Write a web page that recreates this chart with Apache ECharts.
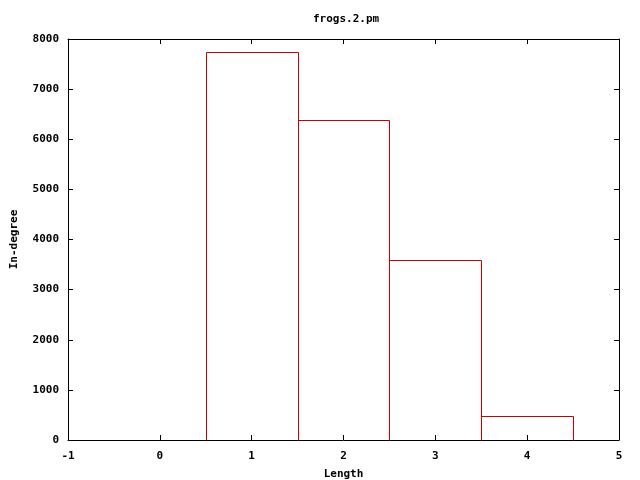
<!DOCTYPE html>
<html><head><meta charset="utf-8">
<script src="https://cdn.jsdelivr.net/npm/echarts@6/dist/echarts.min.js"></script>
<style>html,body{margin:0;padding:0;background:#fff}#c{width:640px;height:480px}</style>
</head><body><div id="c"></div>
<script>
const lengths = [1, 2, 3, 4];
const inDegree = [7740, 6390, 3585, 475];
const xTicks = [-1, 0, 1, 2, 3, 4, 5];
const yTicks = [0, 1000, 2000, 3000, 4000, 5000, 6000, 7000, 8000];

const font = '"DejaVu Sans Mono", monospace';
const chart = echarts.init(document.getElementById('c'), null, {renderer: 'canvas'});
const lineStyle = {color: '#000', width: 1};
const txt = {fontFamily: font, fontSize: 11, fontWeight: 'bold', color: '#000'};
chart.setOption({
  animation: false,
  backgroundColor: '#fff',
  title: {text: 'frogs.2.pm', left: 308, top: 9, textStyle: txt},
  grid: {left: 68, right: 21, top: 39, bottom: 40, containLabel: false, outerBoundsMode: 'none'},
  xAxis: [
    {type: 'value', min: xTicks[0], max: xTicks[xTicks.length-1], interval: 1,
     name: 'Length', nameLocation: 'middle', nameGap: 29, nameTextStyle: txt,
     axisLine: {show: true, onZero: false, lineStyle}, axisTick: {show: true, inside: true, length: 5, lineStyle},
     axisLabel: Object.assign({margin: 11, formatter: v => String(v)}, txt),
     splitLine: {show: false}},
    {type: 'value', position: 'top', min: xTicks[0], max: xTicks[xTicks.length-1], interval: 1,
     axisLine: {show: true, onZero: false, lineStyle}, axisTick: {show: true, inside: true, length: 5, lineStyle},
     axisLabel: {show: false}, splitLine: {show: false}}
  ],
  yAxis: [
    {type: 'value', min: yTicks[0], max: yTicks[yTicks.length-1], interval: 1000,
     name: 'In-degree', nameLocation: 'middle', nameGap: 48, nameRotate: 90, nameTextStyle: txt,
     axisLine: {show: true, onZero: false, lineStyle}, axisTick: {show: true, inside: true, length: 5, lineStyle},
     axisLabel: Object.assign({margin: 9, formatter: v => String(v)}, txt),
     splitLine: {show: false}},
    {type: 'value', position: 'right', min: yTicks[0], max: yTicks[yTicks.length-1], interval: 1000,
     axisLine: {show: true, onZero: false, lineStyle}, axisTick: {show: true, inside: true, length: 5, lineStyle},
     axisLabel: {show: false}, splitLine: {show: false}}
  ],
  series: [{
    type: 'custom',
    xAxisIndex: 0, yAxisIndex: 0,
    data: lengths.map((x, i) => [x, inDegree[i]]),
    renderItem: function (params, api) {
      const x = api.value(0), y = api.value(1);
      const p0 = api.coord([x - 0.5, 0]);
      const p1 = api.coord([x + 0.5, y]);
      const x0 = Math.round(p0[0]) + 0.5, x1 = Math.round(p1[0]) + 0.5;
      const yb = Math.round(p0[1]) + 0.5, yt = Math.round(p1[1]) + 0.5;
      return {
        type: 'polyline',
        shape: {points: [[x0, yb], [x0, yt], [x1, yt], [x1, yb]]},
        style: {fill: null, stroke: '#cc0000', lineWidth: 1}
      };
    }
  }]
});
</script></body></html>
